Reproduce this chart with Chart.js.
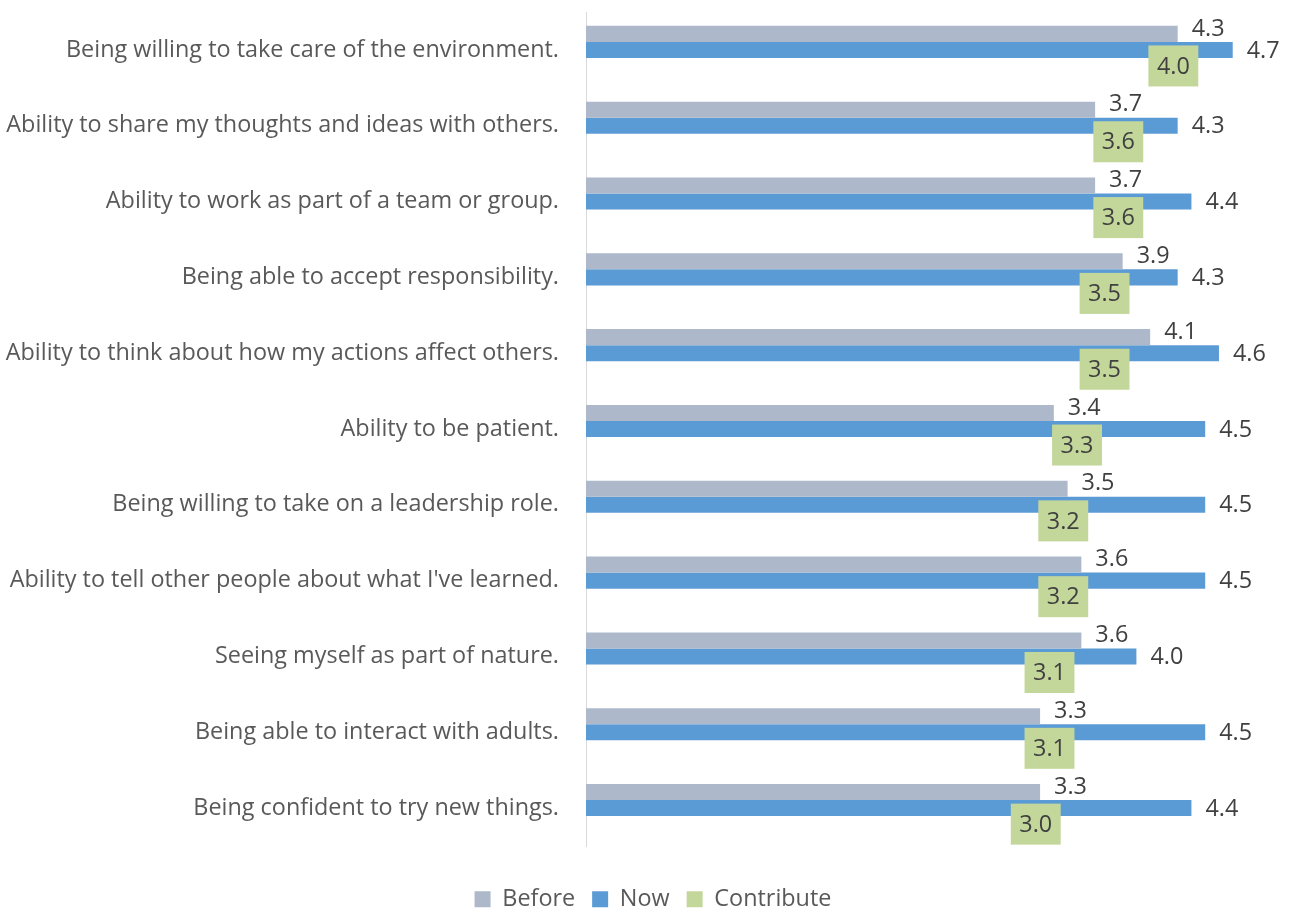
<!DOCTYPE html>
<html>
<head>
<meta charset="utf-8">
<script src="https://cdn.jsdelivr.net/npm/chart.js@4.4.0/dist/chart.umd.min.js"></script>
<style>
  html, body { margin: 0; padding: 0; background: #ffffff; }
  #wrap { width: 1298px; height: 911px; position: relative; }
</style>
</head>
<body>
<div id="wrap"><canvas id="chart"></canvas></div>
<script>
// Survey items, top to bottom
const categories = [
  'Being willing to take care of the environment.',
  'Ability to share my thoughts and ideas with others.',
  'Ability to work as part of a team or group.',
  'Being able to accept responsibility.',
  'Ability to think about how my actions affect others.',
  'Ability to be patient.',
  'Being willing to take on a leadership role.',
  "Ability to tell other people about what I've learned.",
  'Seeing myself as part of nature.',
  'Being able to interact with adults.',
  'Being confident to try new things.'
];

// Average ratings per item
const beforeValues     = [4.3, 3.7, 3.7, 3.9, 4.1, 3.4, 3.5, 3.6, 3.6, 3.3, 3.3];
const nowValues        = [4.7, 4.3, 4.4, 4.3, 4.6, 4.5, 4.5, 4.5, 4.0, 4.5, 4.4];
const contributeValues = [4.0, 3.6, 3.6, 3.5, 3.5, 3.3, 3.2, 3.2, 3.1, 3.1, 3.0];

const seriesNames  = ['Before', 'Now', 'Contribute'];
const seriesColors = ['#adb9ca', '#5b9bd5', '#c4d79b'];

const FONT = '"Open Sans", "DejaVu Sans", sans-serif';
const FONT_SIZE = 23.4;
const LABEL_DARK = '#404040';
const LABEL_GREY = '#595959';

// Writes the rounded value next to each bar; "Contribute" values sit in filled boxes
const valueLabels = {
  id: 'valueLabels',
  afterDatasetsDraw(chart) {
    const ctx = chart.ctx;
    ctx.save();
    ctx.font = FONT_SIZE + 'px ' + FONT;
    ctx.textBaseline = 'middle';
    ctx.textAlign = 'left';
    ctx.fillStyle = LABEL_DARK;
    [0, 1].forEach(di => {
      const meta = chart.getDatasetMeta(di);
      const data = chart.data.datasets[di].data;
      meta.data.forEach((bar, i) => {
        const dy = di === 0 ? -5 : 1;
        ctx.fillText(data[i].toFixed(1), bar.x + 14, bar.y + dy);
      });
    });
    const meta = chart.getDatasetMeta(2);
    const data = chart.data.datasets[2].data;
    meta.data.forEach((bar, i) => {
      const txt = data[i].toFixed(1);
      const w = ctx.measureText(txt).width + 17;
      const h = 41;
      const left = bar.x + 12;
      ctx.fillStyle = seriesColors[2];
      ctx.fillRect(left, bar.y - h / 2, w, h);
      ctx.fillStyle = LABEL_DARK;
      ctx.textAlign = 'center';
      ctx.fillText(txt, left + w / 2, bar.y + 1);
    });
    ctx.restore();
  }
};

// Centres the legend row a little right of the canvas middle
const legendShift = {
  id: 'legendShift',
  afterLayout(chart) {
    if (chart.legend) {
      chart.legend.left += 32;
    }
  }
};

function draw() {
  const ctx = document.getElementById('chart').getContext('2d');
  new Chart(ctx, {
    type: 'bar',
    data: {
      labels: categories,
      datasets: [
        { label: seriesNames[0], data: beforeValues, backgroundColor: seriesColors[0] },
        { label: seriesNames[1], data: nowValues, backgroundColor: seriesColors[1] },
        { label: seriesNames[2], data: contributeValues, backgroundColor: 'rgba(0,0,0,0)' }
      ]
    },
    options: {
      indexAxis: 'y',
      responsive: true,
      maintainAspectRatio: false,
      animation: false,
      datasets: {
        bar: { categoryPercentage: 0.635, barPercentage: 1.0, borderWidth: 0 }
      },
      layout: { padding: { top: 12, right: 24, bottom: -10, left: 0 } },
      scales: {
        x: {
          type: 'linear',
          min: 0,
          max: 5,
          grid: { display: false },
          border: { display: false },
          ticks: { display: false },
          afterFit(scale) { scale.height = 24.6; }
        },
        y: {
          grid: { display: false, drawTicks: false },
          border: { display: true, color: '#d9d9d9', width: 1 },
          ticks: {
            font: { family: FONT, size: FONT_SIZE },
            color: LABEL_GREY,
            padding: 27,
            autoSkip: false
          },
          afterFit(scale) {
            scale.width = 586;
            scale.paddingTop = 0;
            scale.paddingBottom = 0;
          }
        }
      },
      plugins: {
        tooltip: { enabled: false },
        legend: {
          position: 'bottom',
          labels: {
            font: { family: FONT, size: FONT_SIZE },
            color: LABEL_GREY,
            boxWidth: 16,
            boxHeight: 16,
            padding: 17,
            generateLabels(chart) {
              const items = Chart.defaults.plugins.legend.labels.generateLabels(chart);
              items.forEach((it, i) => {
                it.fillStyle = seriesColors[i];
                it.strokeStyle = seriesColors[i];
                it.lineWidth = 0;
              });
              return items;
            }
          }
        }
      }
    },
    plugins: [valueLabels, legendShift]
  });
}

if (document.fonts && document.fonts.load) {
  document.fonts.load(FONT_SIZE + 'px "Open Sans"').then(draw, draw);
} else {
  draw();
}
</script>
</body>
</html>
